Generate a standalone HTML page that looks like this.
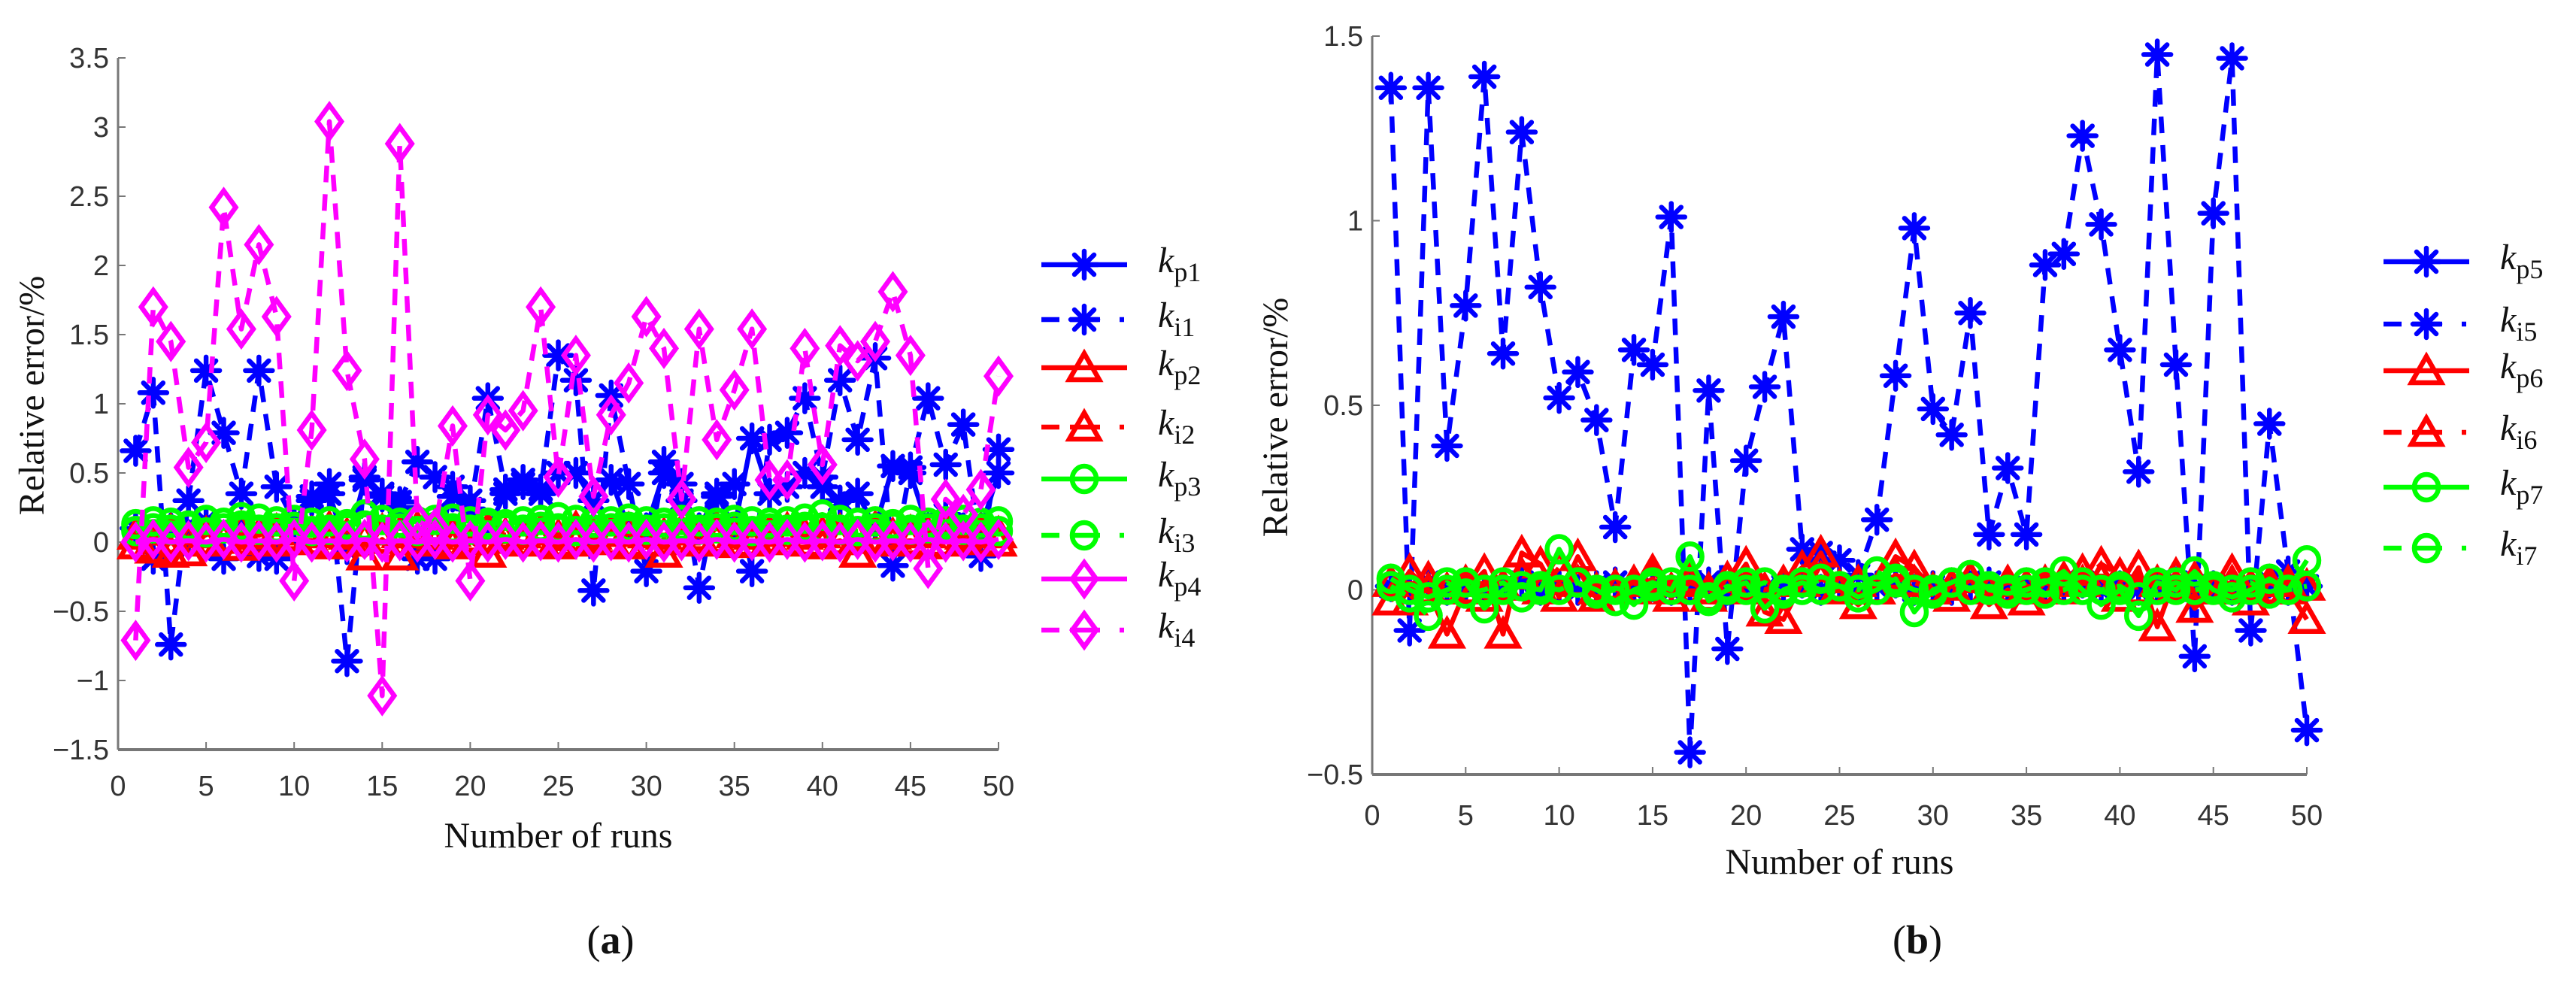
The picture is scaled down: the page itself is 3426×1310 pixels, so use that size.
<!DOCTYPE html>
<html><head><meta charset="utf-8">
<style>
html,body{margin:0;padding:0;background:#fff;}
svg{display:block;}
.tick{font-family:"Liberation Sans",sans-serif;font-size:38px;fill:#333;}
.title{font-family:"Liberation Serif",serif;font-size:48px;fill:#111;}
.leg{font-family:"Liberation Serif",serif;font-size:48px;fill:#111;}
.cap{font-family:"Liberation Serif",serif;font-size:54px;fill:#111;}
</style></head>
<body>
<svg id="chart" width="3426" height="1310" viewBox="0 0 3426 1310" xmlns="http://www.w3.org/2000/svg"></svg>
<script>
// ---- data (x = run number 1..50) ----
const runs = Array.from({length:50},(_, i)=>i+1);
// panel (a)
const kp1 = [0.1,-0.12,0.1,0.05,0.15,-0.12,0.1,-0.1,-0.12,0.1,0.3,0.35,-0.05,0.45,0.35,0.25,-0.12,-0.12,0.4,0.3,0.1,0.35,0.45,0.35,0.5,0.5,0.3,0.45,0.1,0.1,0.5,0.3,0.1,0.35,0.1,0.75,0.35,0.4,0.5,0.4,0.3,0.35,0.1,0.55,0.5,0.1,0.2,0.1,0.1,0.5];
const ki1 = [0.66,1.08,-0.74,0.3,1.24,0.79,0.35,1.24,0.4,0.15,0.33,0.42,-0.86,0.47,0.33,0.29,0.58,0.47,0.33,0.24,1.04,0.38,0.42,0.38,1.35,1.17,-0.35,1.06,0.42,-0.21,0.58,0.42,-0.33,0.33,0.42,-0.21,0.74,0.79,1.04,0.47,1.17,0.74,1.33,-0.17,0.54,1.04,0.56,0.85,-0.1,0.67];
const kp2 = [-0.02,0.02,-0.08,0.01,0.0,0.02,-0.03,0.01,0.0,0.02,0.01,-0.02,0.0,-0.1,0.02,-0.1,0.01,0.0,-0.02,0.01,-0.08,0.02,0.0,0.01,-0.02,0.0,0.02,0.01,-0.02,0.0,-0.08,0.01,0.0,0.02,-0.01,0.0,0.02,0.01,0.0,-0.02,0.01,-0.08,0.02,0.0,0.01,-0.02,0.0,0.02,0.01,0.0];
const ki2 = [0.05,-0.05,0.08,-0.07,0.06,0.03,0.1,0.05,0.08,0.04,0.06,0.1,0.05,0.02,0.08,0.06,0.1,0.05,0.07,0.03,0.09,0.05,0.06,0.08,0.04,0.1,0.05,0.07,0.09,0.06,0.05,0.08,0.04,0.1,0.06,0.05,0.07,0.09,0.05,0.06,0.08,0.04,0.1,0.05,0.07,0.06,0.09,0.05,0.08,0.06];
const kp3 = [0.13,0.15,0.14,0.12,0.16,0.14,0.18,0.17,0.15,0.16,0.14,0.15,0.13,0.2,0.16,0.14,0.15,0.16,0.17,0.15,0.14,0.13,0.15,0.16,0.18,0.16,0.14,0.15,0.17,0.15,0.14,0.16,0.15,0.14,0.16,0.15,0.14,0.15,0.17,0.2,0.16,0.14,0.15,0.13,0.16,0.14,0.15,0.16,0.14,0.15];
const ki3 = [0.08,0.1,0.09,0.11,0.07,0.1,0.12,0.09,0.1,0.11,0.08,0.09,0.1,0.12,0.09,0.1,0.08,0.11,0.1,0.09,0.12,0.1,0.09,0.11,0.1,0.08,0.09,0.1,0.11,0.09,0.1,0.12,0.09,0.1,0.11,0.08,0.1,0.09,0.11,0.1,0.09,0.08,0.1,0.11,0.09,0.1,0.12,0.09,0.1,0.08];
const kp4 = [0.0,0.02,0.0,0.01,0.0,0.02,0.0,0.01,0.0,0.02,0.0,0.01,0.0,0.02,0.0,0.01,0.0,0.02,0.0,0.01,0.0,0.02,0.0,0.01,0.0,0.02,0.0,0.01,0.0,0.02,0.0,0.01,0.0,0.02,0.0,0.01,0.0,0.02,0.0,0.01,0.0,0.02,0.0,0.01,0.0,0.02,0.0,0.01,0.0,0.02];
const ki4 = [-0.71,1.70,1.45,0.54,0.72,2.42,1.54,2.15,1.63,-0.28,0.81,3.04,1.24,0.6,-1.11,2.88,0.15,0.1,0.84,-0.28,0.92,0.81,0.95,1.70,0.47,1.35,0.33,0.92,1.15,1.63,1.40,0.31,1.54,0.74,1.10,1.54,0.45,0.45,1.40,0.56,1.42,1.31,1.45,1.81,1.35,-0.19,0.31,0.2,0.38,1.2];
// panel (b)
const kp5 = [0.01,0.0,0.02,0.0,0.01,0.0,0.01,0.02,0.0,0.01,0.0,0.01,0.02,0.0,0.01,0.0,0.01,0.02,0.0,0.01,0.0,0.01,0.02,0.0,0.01,0.0,0.01,0.02,0.0,0.01,0.0,0.01,0.02,0.0,0.01,0.0,0.01,0.02,0.0,0.01,0.0,0.01,0.02,0.0,0.01,0.0,0.01,0.02,0.0,0.01];
const ki5 = [1.36,-0.11,1.36,0.39,0.77,1.39,0.64,1.24,0.82,0.52,0.59,0.46,0.17,0.65,0.61,1.01,-0.44,0.54,-0.16,0.35,0.55,0.74,0.11,0.1,0.08,0.04,0.19,0.58,0.98,0.49,0.42,0.75,0.15,0.33,0.15,0.88,0.91,1.23,0.99,0.65,0.32,1.45,0.61,-0.18,1.02,1.44,-0.11,0.45,0.05,-0.38];
const kp6 = [-0.03,0.05,0.0,-0.12,0.0,0.05,-0.12,0.1,0.07,-0.02,0.09,0.0,0.0,0.02,0.05,0.0,0.03,-0.02,0.0,0.07,-0.06,-0.08,0.02,0.1,0.0,-0.04,0.0,0.09,0.06,0.0,-0.02,0.03,-0.04,0.0,-0.03,0.02,0.0,0.05,0.03,-0.02,0.06,-0.1,0.04,-0.05,0.0,0.05,-0.03,0.02,0.0,-0.08];
const ki6 = [0.02,-0.03,0.03,0.0,0.02,-0.02,0.01,0.04,0.0,0.06,0.02,-0.02,0.01,0.0,0.03,-0.02,0.02,0.0,0.03,0.01,0.0,0.02,0.06,0.03,0.01,0.02,0.0,0.04,0.02,0.0,0.01,0.03,0.0,0.02,0.01,0.0,0.03,0.02,0.07,0.04,0.0,0.02,0.01,0.03,0.0,0.02,0.01,0.0,0.02,0.01];
const kp7 = [0.03,0.0,-0.02,0.0,0.02,-0.05,0.0,0.01,0.0,0.11,0.02,0.0,-0.03,0.0,0.02,0.0,0.09,-0.03,0.0,0.02,-0.05,0.0,0.02,0.0,0.01,-0.02,0.0,0.03,-0.06,0.0,0.02,0.04,0.0,-0.01,0.0,0.02,0.05,0.0,-0.04,0.0,-0.07,0.02,0.0,0.05,0.0,-0.02,0.0,0.03,0.0,0.08];
const ki7 = [0.01,-0.02,-0.07,0.02,-0.01,0.0,0.02,-0.02,0.01,0.0,0.02,-0.01,0.0,-0.04,0.01,0.02,0.0,-0.02,0.01,0.0,0.02,-0.01,0.0,0.03,0.01,0.0,0.05,0.02,0.0,-0.01,0.02,0.0,0.01,0.0,0.02,-0.01,0.0,0.02,0.0,0.01,-0.02,0.0,0.02,0.0,0.01,0.0,0.02,-0.01,0.0,0.01];
const ticksA = [-1.5,-1,-0.5,0,0.5,1,1.5,2,2.5,3,3.5];
const ticksB = [-0.5,0,0.5,1,1.5];
const xTicks = [0,5,10,15,20,25,30,35,40,45,50];

const NS = "http://www.w3.org/2000/svg";
const svg = document.getElementById('chart');
function mk(tag, attrs, parent){
  const e = document.createElementNS(NS, tag);
  for (const k in attrs) e.setAttribute(k, attrs[k]);
  (parent||svg).appendChild(e);
  return e;
}
const COL = {b:'#0000ff', r:'#ff0000', g:'#00ff00', m:'#ff00ff'};

function marker(g, type, cx, cy, color){
  if (type==='star'){
    const r=18, d=13;
    const p = `M${cx-r},${cy}L${cx+r},${cy}M${cx},${cy-r}L${cx},${cy+r}M${cx-d},${cy-d}L${cx+d},${cy+d}M${cx-d},${cy+d}L${cx+d},${cy-d}`;
    return mk('path',{d:p,stroke:color,'stroke-width':6.5,fill:'none','stroke-linecap':'round'},g);
  }
  if (type==='tri'){
    return mk('path',{d:`M${cx},${cy-19}L${cx+20},${cy+16}L${cx-20},${cy+16}Z`,stroke:color,'stroke-width':6.5,fill:'none','stroke-linejoin':'miter'},g);
  }
  if (type==='circ'){
    return mk('ellipse',{cx:cx,cy:cy,rx:16,ry:17,stroke:color,'stroke-width':6.5,fill:'none'},g);
  }
  return mk('path',{d:`M${cx},${cy-22}L${cx+16},${cy}L${cx},${cy+22}L${cx-16},${cy}Z`,stroke:color,'stroke-width':6.5,fill:'none'},g);
}

function panel(p){
  const sx = v => p.x0 + (v-0)/(50-0)*(p.x1-p.x0);
  const sy = v => p.yb - (v-p.ymin)/(p.ymax-p.ymin)*(p.yb-p.yt);
  const ax = mk('g',{});
  
  
  mk('line',{x1:p.x0,y1:p.yt,x2:p.x0,y2:p.yb,stroke:'#777','stroke-width':3},ax);
  mk('line',{x1:p.x0,y1:p.yb,x2:p.x1,y2:p.yb,stroke:'#777','stroke-width':4},ax);
  p.yticks.forEach(v=>{
    const y=sy(v);
    mk('line',{x1:p.x0,y1:y,x2:p.x0+10,y2:y,stroke:'#777','stroke-width':2},ax);
    const t=mk('text',{x:p.x0-12,y:y+13,'text-anchor':'end',class:'tick'},ax);
    t.textContent = (v<0?'\u2212':'')+Math.abs(v);
    
    
  });
  xTicks.forEach(v=>{
    const x=sx(v);
    mk('line',{x1:x,y1:p.yb,x2:x,y2:p.yb-10,stroke:'#777','stroke-width':2},ax);
    const t=mk('text',{x:x,y:p.xly,'text-anchor':'middle',class:'tick'},ax);
    t.textContent = v;
    
    
  });
  const xt = mk('text',{x:(p.x0+p.x1)/2,y:p.xty,'text-anchor':'middle',class:'title'});
  xt.textContent='Number of runs';
  
  
  const yt = mk('text',{x:0,y:0,'text-anchor':'middle',class:'title',transform:`translate(${p.ytx},${p.yty}) rotate(-90)`});
  yt.textContent='Relative error/%';
  
  
  const cap = mk('text',{x:p.capx,y:1268,'text-anchor':'middle',class:'cap'});
  cap.innerHTML='(<tspan font-weight="bold">'+p.id.slice(-1)+'</tspan>)';
  
  

  p.series.forEach((s,si)=>{
    const g = mk('g',{});
    
    
    const pts = runs.map((r,i)=>sx(r)+','+sy(s.data[i])).join(' ');
    const attrs = {points:pts,fill:'none',stroke:s.color,'stroke-width':6.5,'stroke-linejoin':'round'};
    if (s.dash) attrs['stroke-dasharray']='22 16';
    mk('polyline',attrs,g);
    runs.forEach((r,i)=>{
      const m = marker(g,s.marker,sx(r),sy(s.data[i]),s.color);
      
      
    });
    const ly = p.legY[si];
    const lg = mk('g',{});
    
    
    if (s.dash){
      mk('line',{x1:p.legX,y1:ly,x2:p.legX+24,y2:ly,stroke:s.color,'stroke-width':6.5},lg);
      mk('line',{x1:p.legX+38,y1:ly,x2:p.legX+78,y2:ly,stroke:s.color,'stroke-width':6.5},lg);
      mk('line',{x1:p.legX+104,y1:ly,x2:p.legX+110,y2:ly,stroke:s.color,'stroke-width':6.5},lg);
    } else {
      mk('line',{x1:p.legX,y1:ly,x2:p.legX+114,y2:ly,stroke:s.color,'stroke-width':6.5},lg);
    }
    marker(lg,s.marker,p.legX+57,ly,s.color);
    const t = mk('text',{x:p.legX+155,y:ly+10,class:'leg'},lg);
    t.innerHTML = '<tspan font-style="italic">k</tspan><tspan font-size="36" dy="12">'+s.sub+'</tspan>';
  });
}

panel({id:'panel-a',x0:157,x1:1328,yt:77,yb:997,ymin:-1.5,ymax:3.5,yticks:ticksA,xly:1058,xty:1127,ytx:58,yty:526,capx:812,
  legX:1385,legY:[352,425,489,568,637,712,770,838],
  series:[
    {name:'kp1',sub:'p1',data:kp1,color:COL.b,marker:'star',dash:false},
    {name:'ki1',sub:'i1',data:ki1,color:COL.b,marker:'star',dash:true},
    {name:'kp2',sub:'p2',data:kp2,color:COL.r,marker:'tri',dash:false},
    {name:'ki2',sub:'i2',data:ki2,color:COL.r,marker:'tri',dash:true},
    {name:'kp3',sub:'p3',data:kp3,color:COL.g,marker:'circ',dash:false},
    {name:'ki3',sub:'i3',data:ki3,color:COL.g,marker:'circ',dash:true},
    {name:'kp4',sub:'p4',data:kp4,color:COL.m,marker:'dia',dash:false},
    {name:'ki4',sub:'i4',data:ki4,color:COL.m,marker:'dia',dash:true}
  ]});
panel({id:'panel-b',x0:1825,x1:3068,yt:48,yb:1030,ymin:-0.5,ymax:1.5,yticks:ticksB,xly:1097,xty:1162,ytx:1712,yty:555,capx:2550,
  legX:3170,legY:[348,431,493,575,648,729],
  series:[
    {name:'kp5',sub:'p5',data:kp5,color:COL.b,marker:'star',dash:false},
    {name:'ki5',sub:'i5',data:ki5,color:COL.b,marker:'star',dash:true},
    {name:'kp6',sub:'p6',data:kp6,color:COL.r,marker:'tri',dash:false},
    {name:'ki6',sub:'i6',data:ki6,color:COL.r,marker:'tri',dash:true},
    {name:'kp7',sub:'p7',data:kp7,color:COL.g,marker:'circ',dash:false},
    {name:'ki7',sub:'i7',data:ki7,color:COL.g,marker:'circ',dash:true}
  ]});
</script>
</body></html>
